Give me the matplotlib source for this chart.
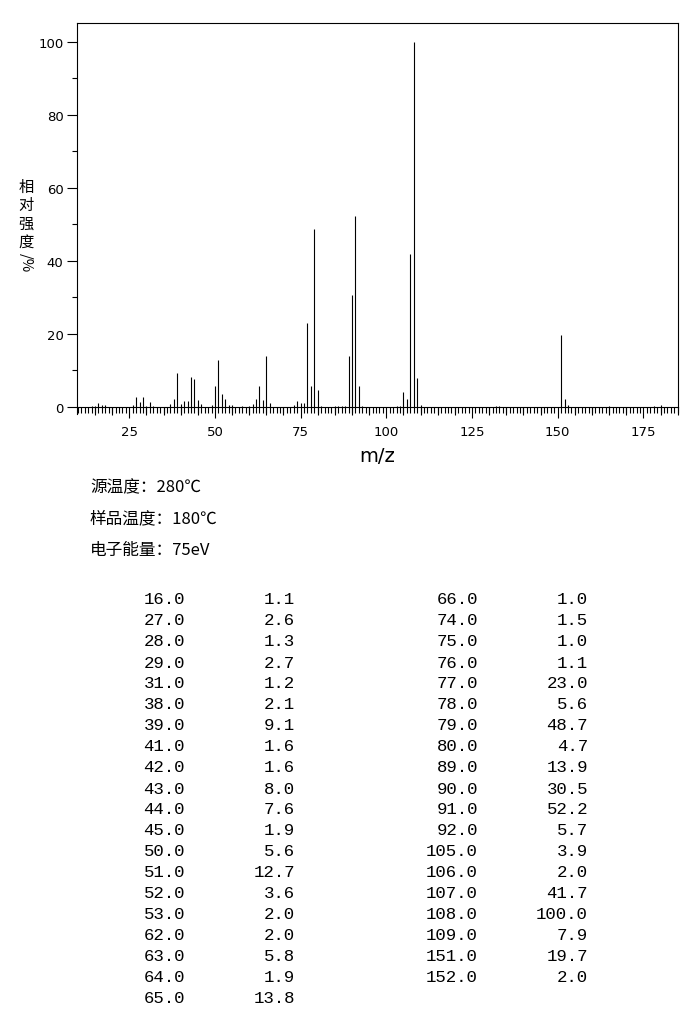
import numpy as np
import matplotlib
matplotlib.use('Agg')
import matplotlib.pyplot as plt
from matplotlib.ticker import MultipleLocator, FixedLocator

# peak table (m/z, relative intensity %)
mz_left = [16, 27, 28, 29, 31, 38, 39, 41, 42, 43, 44, 45, 50, 51, 52, 53, 62, 63, 64, 65]
int_left = [1.1, 2.6, 1.3, 2.7, 1.2, 2.1, 9.1, 1.6, 1.6, 8.0, 7.6, 1.9, 5.6, 12.7, 3.6, 2.0,
            2.0, 5.8, 1.9, 13.8]
mz_right = [66, 74, 75, 76, 77, 78, 79, 80, 89, 90, 91, 92, 105, 106, 107, 108, 109, 151, 152]
int_right = [1.0, 1.5, 1.0, 1.1, 23.0, 5.6, 48.7, 4.7, 13.9, 30.5, 52.2, 5.7, 3.9, 2.0, 41.7,
             100.0, 7.9, 19.7, 2.0]

# small peaks (< 1 %) that are drawn but not listed
mz_small = [14, 15, 17, 18, 26, 30, 32, 37, 40, 46, 49, 54, 55, 58, 60, 61, 73, 81, 85, 86,
            87, 88, 93, 103, 104, 110, 132, 133, 153, 165, 178, 180]
int_small = [0.3, 0.3, 0.6, 0.6, 0.5, 0.3, 0.3, 0.8, 0.8, 0.7, 0.6, 0.5, 0.5, 0.3, 0.3, 0.8,
             0.5, 0.3, 0.3, 0.3, 0.3, 0.3, 0.3, 0.3, 0.3, 0.5, 0.3, 0.3, 0.4, 0.3, 0.3, 0.4]

info_lines = ['源温度：280℃', '样品温度：180℃', '电子能量：75eV']

W, H = 692, 1020
cjk = ['Noto Sans CJK SC', 'DejaVu Sans']


def px(x, y):
    return x / W, 1 - y / H


fig = plt.figure(figsize=(W / 100, H / 100), dpi=100)
ax = fig.add_axes([77.3 / W, 1 - 407.7 / H, 600.4 / W, 383.4 / H])

mz_all = mz_left + mz_right + mz_small
int_all = int_left + int_right + int_small
ax.vlines(mz_all, 0, int_all, colors='black', linewidth=0.8)

ax.set_xlim(9.85, 185.0)
ax.set_ylim(0, 105)
for s in ax.spines.values():
    s.set_linewidth(0.8)
ax.spines['left'].set_bounds(-2, 105)

ax.xaxis.set_major_locator(MultipleLocator(25))
ax.xaxis.set_minor_locator(MultipleLocator(1))
ax.yaxis.set_major_locator(MultipleLocator(20))
ax.yaxis.set_minor_locator(MultipleLocator(10))
ax.tick_params(axis='x', which='major', length=8, width=0.8, pad=5, labelsize=9.5)
ax.tick_params(axis='x', which='minor', length=4.3, width=0.8)
ax.tick_params(axis='y', which='major', length=7, width=0.8, pad=3, labelsize=9.5)
ax.tick_params(axis='y', which='minor', length=3.5, width=0.8)

# medium ticks every 5
sec = ax.secondary_xaxis('bottom')
sec.xaxis.set_major_locator(FixedLocator([v for v in range(15, 186, 5) if v % 25]))
sec.tick_params(length=5.8, width=0.8, labelbottom=False)
sec.spines['bottom'].set_visible(False)

ax.set_xlabel('m/z', fontsize=14, labelpad=6)

# vertical stacked y label
for i, ch in enumerate('相对强度'):
    fig.text(*px(26, 187 + 18.5 * i), ch, family=cjk, fontsize=11, ha='center', va='center')
fig.text(*px(26, 263), '/%', family=cjk, fontsize=10.5, ha='center', va='center', rotation=270)

for i, line in enumerate(info_lines):
    fig.text(*px(90, 488 + 31 * i), line, family=cjk, fontsize=12, ha='left', va='center')

mono = 'Liberation Mono'
for i in range(len(mz_left)):
    y = 600 + 21 * i
    fig.text(*px(185, y), f'{mz_left[i]:.1f}', family=mono, fontsize=12.5, ha='right', va='center')
    fig.text(*px(295, y), f'{int_left[i]:.1f}', family=mono, fontsize=12.5, ha='right', va='center')
for i in range(len(mz_right)):
    y = 600 + 21 * i
    fig.text(*px(478, y), f'{mz_right[i]:.1f}', family=mono, fontsize=12.5, ha='right', va='center')
    fig.text(*px(588, y), f'{int_right[i]:.1f}', family=mono, fontsize=12.5, ha='right', va='center')

fig.savefig('out.png', dpi=100)
